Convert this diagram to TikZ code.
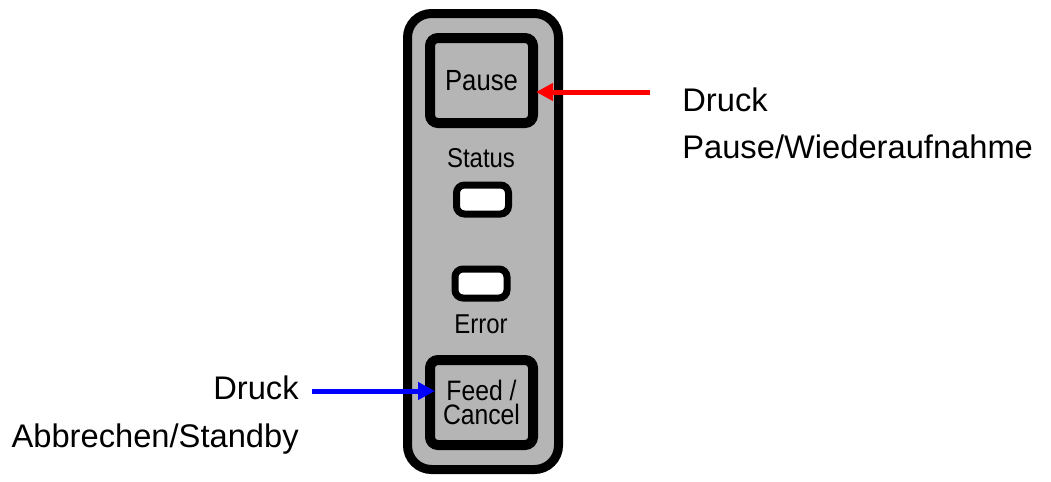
\documentclass[tikz,border=0pt]{standalone}
\usepackage{fontspec}
\setmainfont{Liberation Sans}
\newfontfamily\keyfont[FakeStretch=0.88]{Liberation Sans}
\usepackage{xcolor}
\usepackage{tikz}
\usetikzlibrary{positioning}
\usetikzlibrary{arrows.meta}
\usetikzlibrary{calc}
\tikzstyle{panel}=[rectangle,draw=black,fill=black!29,line width=9*0.02cm,rounded corners=24*0.02cm,minimum width=151*0.02cm,minimum height=456*0.02cm,inner sep=0pt,outer sep=0pt]
\tikzstyle{keybox}=[rectangle,draw=black,fill=black!29,line width=10*0.02cm,rounded corners=8*0.02cm,minimum width=103*0.02cm,minimum height=85*0.02cm,inner sep=0pt,outer sep=0pt,align=center]
\tikzstyle{led}=[rectangle,draw=black,fill=white,line width=7*0.02cm,rounded corners=8*0.02cm,minimum width=52*0.02cm,minimum height=29*0.02cm,inner sep=0pt,outer sep=0pt]
\tikzstyle{caption}=[font=\keyfont\fontsize{15.5}{18}\selectfont,inner sep=0pt]
\tikzstyle{note}=[font=\fontsize{18.6}{22}\selectfont,inner sep=0pt]
\tikzstyle{pointer}=[draw,line width=5*0.02cm,-{Triangle[length=17*0.02cm,width=17*0.02cm]}]

\begin{document}
\begin{tikzpicture}[x=0.02cm,y=-0.02cm]

 \useasboundingbox (0,0) rectangle (1051,481);

 %panel
 \node[panel] (panel) at (483,241.5) {};

 %keys
 \node[keybox,font=\keyfont\fontsize{16.6}{18}\selectfont] (pause) at (481.5,80.5) {Pause};
 \node[keybox,font=\keyfont\fontsize{16}{13.2}\selectfont] (feed) at (481.5,402.5) {Feed /\\Cancel};

 %leds
  \foreach \x/\y/\name in {482.5/199.5/statusled, 481/283.5/errorled}
          \node[led] (\name) at (\x,\y) {};

 \node[caption,anchor=base] (status) at (481,167) {Status};
 \node[caption,anchor=base] (error) at (481,333) {Error};

 %labels right
 \node[note,anchor=base west] (pausetop) at (682,111) {Druck};
 \node[note,anchor=base west] (pausebot) at (682,158) {Pause/Wiederaufnahme};

 %labels left
 \node[note,anchor=base east] (feedtop) at (299,399) {Druck};
 \node[note,anchor=base east] (feedbot) at (299,447) {Abbrechen/Standby};

 \coordinate (pausefrom) at (650,92);
 \coordinate (feedfrom) at (312,391);

 \path[pointer,red,shorten >=3*0.02cm] (pausefrom) -- (pausefrom -| pause.east);
 \path[pointer,blue,shorten >=-5*0.02cm] (feedfrom) -- (feedfrom -| feed.west);

\end{tikzpicture}
\end{document}
